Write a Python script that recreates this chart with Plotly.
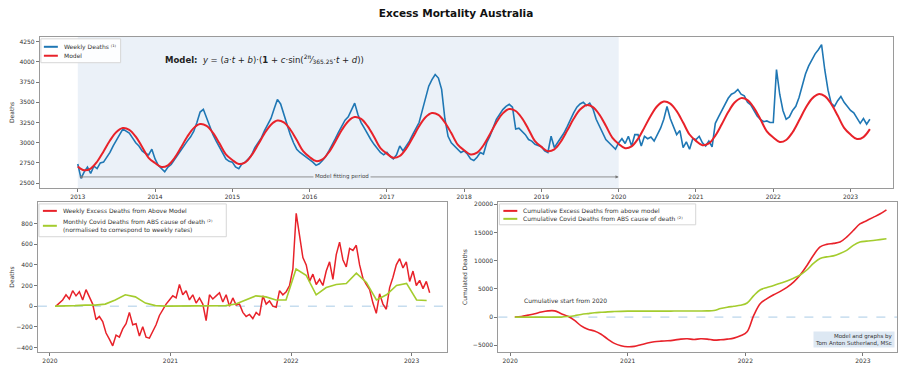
import numpy as np
import plotly.graph_objects as go

# ======================================
# DATA
# ======================================

# top panel: weekly deaths, sampled twice a month from 2013
weekly_deaths_2013 = [2737, 2560, 2640, 2700, 2620, 2710, 2680, 2750, 2760, 2820, 2880, 2960,
                      3040, 3100, 3170, 3140, 3120, 3060, 3000, 2960, 2900, 2870, 2850, 2920]
weekly_deaths_2014 = [2800, 2720, 2680, 2640, 2700, 2730, 2790, 2850, 2900, 2960, 3020, 3070,
                      3140, 3250, 3380, 3414, 3300, 3200, 3100, 3020, 2950, 2880, 2800, 2770]
weekly_deaths_2015 = [2760, 2700, 2680, 2740, 2760, 2800, 2850, 2940, 3000, 3060, 3150, 3220,
                      3300, 3420, 3536, 3480, 3350, 3230, 3100, 3000, 2920, 2880, 2850, 2820]
weekly_deaths_2016 = [2800, 2760, 2720, 2740, 2780, 2830, 2900, 2970, 3050, 3130, 3210, 3280,
                      3320, 3400, 3490, 3350, 3250, 3180, 3100, 3040, 2980, 2930, 2880, 2850]
weekly_deaths_2017 = [2880, 2830, 2800, 2850, 2960, 2900, 2960, 3020, 3100, 3180, 3250, 3400,
                      3560, 3700, 3780, 3844, 3800, 3660, 3300, 3080, 3000, 2960, 2920, 2880]
weekly_deaths_2018 = [2900, 2860, 2800, 2780, 2820, 2880, 2860, 3000, 3080, 3180, 3290, 3350,
                      3410, 3450, 3475, 3440, 3170, 3180, 3140, 3100, 3040, 3020, 2980, 2960]
weekly_deaths_2019 = [2950, 2900, 2880, 3080, 2940, 3000, 3060, 3120, 3200, 3290, 3370, 3440,
                      3480, 3500, 3460, 3490, 3420, 3290, 3200, 3120, 3040, 3000, 2960, 2920]
weekly_deaths_2020 = [3000, 3050, 2990, 3080, 2960, 3100, 3100, 2960, 3080, 3050, 3070, 3020,
                      3100, 3180, 3290, 3450, 3300, 3200, 3100, 3150, 2940, 3010, 2920, 3050]
weekly_deaths_2021 = [3040, 3080, 3000, 2960, 3020, 2950, 3240, 3320, 3400, 3470, 3550, 3600,
                      3620, 3660, 3600, 3580, 3500, 3470, 3400, 3330, 3290, 3260, 3270, 3250]
weekly_deaths_2022 = [3250, 3905, 3600, 3400, 3290, 3320, 3400, 3450, 3560, 3700, 3850, 3950,
                      4030, 4100, 4150, 4213, 3900, 3650, 3487, 3450, 3520, 3573, 3500, 3450]
weekly_deaths_2023 = [3400, 3370, 3300, 3240, 3300, 3230, 3290]

# top panel: fitted model, monthly values
model_2013 = [2707, 2659, 2680, 2765, 2892, 3027, 3133, 3182, 3160, 3075, 2948, 2813]
model_2014 = [2749, 2700, 2721, 2808, 2937, 3074, 3181, 3231, 3209, 3122, 2993, 2856]
model_2015 = [2787, 2737, 2758, 2846, 2977, 3115, 3223, 3274, 3252, 3164, 3033, 2895]
model_2016 = [2823, 2773, 2795, 2884, 3016, 3157, 3267, 3318, 3295, 3206, 3074, 2933]
model_2017 = [2865, 2814, 2836, 2927, 3061, 3203, 3315, 3367, 3344, 3253, 3119, 2977]
model_2018 = [2907, 2855, 2877, 2969, 3105, 3250, 3363, 3416, 3393, 3301, 3165, 3020]
model_2019 = [2949, 2896, 2919, 3012, 3150, 3296, 3411, 3465, 3441, 3348, 3210, 3064]
model_2020 = [2985, 2932, 2955, 3049, 3190, 3338, 3455, 3509, 3485, 3391, 3250, 3102]
model_2021 = [3023, 2969, 2992, 3088, 3229, 3379, 3497, 3552, 3528, 3432, 3291, 3141]
model_2022 = [3065, 3010, 3034, 3130, 3274, 3426, 3545, 3601, 3576, 3480, 3336, 3184]
model_2023 = [3101, 3046, 3070, 3168]

# bottom left: weekly excess deaths (approx. every 10 days from Jan 2020)
weekly_excess = [
    0, 30, 60, 110, 70, 150, 100, 140, 60, 160,
    90, 20, -130, -100, -150, -260, -320, -384, -280, -300,
    -220, -170, -60, -180, -170, -290, -200, -300, -310, -240,
    -180, -90, -30, 20, 60, 100, 80, 210, 110, 150,
    60, 110, 30, 80, 20, -140, 110, 70, 100, 130,
    40, 110, 0, 80, 10, 20, -60, -100, -80, -120,
    -60, -90, 100, 20, 50, 0, -10, 150, 110, 140,
    200, 360, 900, 700, 470, 400, 240, 310, 210, 260,
    200, 340, 430, 260, 500, 620, 450, 380, 560, 540,
    590, 400, 270, 210, 160, 30, -70, 120, 20, -30,
    180, 280, 400, 460, 370, 430, 240, 340, 200, 250,
    170, 240, 130,
]

# bottom left: monthly covid deaths, normalised to weekly rates
covid_monthly = [
    0, 0, 5, 10, 10, 20, 60, 110, 90, 30, 5, 0,
    0, 0, 0, 0, 0, 5, 20, 60, 100, 90, 60, 60,
    360, 300, 110, 180, 210, 220, 320, 230, 60, 110, 200, 220,
    60, 55,
]

# bottom right: cumulative excess and covid deaths
cum_excess = [
    0, 100, 350, 600, 900, 1100, 1100, 600, 150, -580,
    -1570, -2160, -2450, -3030, -3900, -4660, -5070, -5250, -5190, -4900,
    -4600, -4370, -4260, -4200, -4080, -3900, -3850, -3960, -3850, -3900,
    -4080, -4020, -3900, -3730, -3320, -2600, 300, 2400, 3270, 3960,
    4550, 5250, 6180, 7460, 9100, 10960, 12420, 12880, 13060, 13290,
    14170, 15330, 16500, 17080, 17660, 18250, 19000,
]
cum_covid = [
    0, 0, 0, 0, 0, 0, 0, 0, 100, 250,
    470, 620, 760, 850, 930, 980, 1020, 1050, 1050, 1060,
    1060, 1060, 1060, 1060, 1070, 1070, 1070, 1080, 1080, 1100,
    1170, 1520, 1750, 1920, 2100, 2500, 3800, 4840, 5250, 5600,
    6000, 6410, 6880, 7460, 8340, 9500, 10380, 10670, 10840, 11250,
    11830, 12710, 13290, 13450, 13580, 13720, 13870,
]

year_ticks_top = list(range(2013, 2024))
year_ticks_bottom = [2020, 2021, 2022, 2023]

weekly_deaths = (weekly_deaths_2013 + weekly_deaths_2014 + weekly_deaths_2015 + weekly_deaths_2016
                 + weekly_deaths_2017 + weekly_deaths_2018 + weekly_deaths_2019 + weekly_deaths_2020
                 + weekly_deaths_2021 + weekly_deaths_2022 + weekly_deaths_2023)
model_deaths = (model_2013 + model_2014 + model_2015 + model_2016 + model_2017 + model_2018
                + model_2019 + model_2020 + model_2021 + model_2022 + model_2023)

# time grids (decimal years)
t_weekly = 2013 + np.arange(len(weekly_deaths)) / 24
t_model = 2013 + np.arange(len(model_deaths)) / 12
t_excess = np.linspace(2020.05, 2023.15, len(weekly_excess))
t_covid = 2020 + (np.arange(len(covid_monthly)) + 0.5) / 12
t_cum = np.linspace(2020.04, 2023.2, len(cum_excess))

# ======================================
# PAGE GEOMETRY
# ======================================

# the page body has an 8px margin, so the figure is drawn 8px in and made
# smaller so that it fits the 909x368 window
OFF = 8
W, H = 909 - OFF, 368 - OFF


def px(p):
    return (p - OFF) / W


def py(p):
    return 1 - (p - OFF) / H


FONT = "DejaVu Sans"
BLUE = "#1f77b4"
RED = "#e8222a"
GREEN = "#a4cc2e"
SHADE = "#ebf1f8"

# ======================================
# FIGURE
# ======================================

fig = go.Figure()

fig.add_trace(go.Scatter(x=t_weekly, y=weekly_deaths, mode="lines", name="Weekly Deaths",
                         line=dict(color=BLUE, width=1.6), xaxis="x", yaxis="y"))
fig.add_trace(go.Scatter(x=t_model, y=model_deaths, mode="lines", name="Model",
                         line=dict(color=RED, width=2, shape="spline"), xaxis="x", yaxis="y"))
fig.add_trace(go.Scatter(x=t_excess, y=weekly_excess, mode="lines", name="Weekly Excess",
                         line=dict(color=RED, width=1.5), xaxis="x2", yaxis="y2"))
fig.add_trace(go.Scatter(x=t_covid, y=covid_monthly, mode="lines", name="Monthly Covid",
                         line=dict(color=GREEN, width=1.6), xaxis="x2", yaxis="y2"))
fig.add_trace(go.Scatter(x=t_cum, y=cum_excess, mode="lines", name="Cumulative Excess",
                         line=dict(color=RED, width=1.6, shape="spline"), xaxis="x3", yaxis="y3"))
fig.add_trace(go.Scatter(x=t_cum, y=cum_covid, mode="lines", name="Cumulative Covid",
                         line=dict(color=GREEN, width=1.6, shape="spline"), xaxis="x3", yaxis="y3"))

axis_common = dict(showgrid=False, zeroline=False, showline=True, mirror=True,
                   linecolor="#9a9a9a", linewidth=1, ticks="outside", ticklen=3,
                   tickcolor="#777", tickfont=dict(size=6, color="#333"))

fig.update_layout(
    width=W, height=H,
    margin=dict(l=0, r=0, t=0, b=0),
    paper_bgcolor="white", plot_bgcolor="white",
    font=dict(family=FONT, size=6, color="#333"),
    showlegend=False,
    title=dict(text="<b>Excess Mortality Australia</b>", x=px(456), y=py(13), xanchor="center",
               yanchor="middle", font=dict(size=10.5, color="#111")),
    xaxis=dict(axis_common, domain=[px(37), px(893)], range=[2012.51, 2023.55],
               tickvals=year_ticks_top, anchor="y"),
    yaxis=dict(axis_common, domain=[py(187), py(35)], range=[2440, 4310],
               tickvals=list(range(2500, 4251, 250)), anchor="x",
               title=dict(text="Deaths", font=dict(size=6), standoff=4)),
    xaxis2=dict(axis_common, domain=[px(35), px(445)], range=[2019.9, 2023.29],
                tickvals=year_ticks_bottom, anchor="y2"),
    yaxis2=dict(axis_common, domain=[py(352), py(201)], range=[-445, 1010],
                tickvals=list(range(-400, 801, 200)), anchor="x2",
                title=dict(text="Deaths", font=dict(size=6), standoff=4)),
    xaxis3=dict(axis_common, domain=[px(497), px(897)], range=[2019.9, 2023.29],
                tickvals=year_ticks_bottom, anchor="y3"),
    yaxis3=dict(axis_common, domain=[py(352), py(201)], range=[-6200, 20400],
                tickvals=list(range(-5000, 20001, 5000)), tickformat="d", anchor="x3",
                title=dict(text="Cumulated Deaths", font=dict(size=6), standoff=4)),
)

# model fitting period shading
fig.add_shape(type="rect", xref="x", yref="y domain", x0=2013, x1=2020, y0=0, y1=1,
              fillcolor=SHADE, line=dict(width=0), layer="below")

# zero lines in the bottom panels
for ax in ["2", "3"]:
    fig.add_shape(type="line", xref="x" + ax + " domain", yref="y" + ax, x0=0, x1=1, y0=0, y1=0,
                  line=dict(color="#a9cbe6", width=1, dash="dash"), layer="below")

# arrow over the fitting period
fig.add_annotation(x=2020, y=2577, ax=2013, ay=2577, xref="x", yref="y", axref="x", ayref="y",
                   text="", showarrow=True, arrowside="end+start", arrowhead=2, arrowsize=0.8,
                   arrowwidth=0.8, arrowcolor="#777")
fig.add_annotation(x=2016.42, y=2577, xref="x", yref="y", text="Model fitting period",
                   showarrow=False, font=dict(size=5.5, color="#444"), bgcolor=SHADE)

# model formula
fig.add_annotation(x=2014.1, y=4030, xref="x", yref="y", xanchor="left", showarrow=False,
                   text="<b>Model:</b>  <i>y</i> = (<i>a</i>·<i>t</i> + <i>b</i>)·(<b>1</b> + "
                        "<i>c</i>·sin(<sup>2π</sup>⁄<sub>365.25</sub>·<i>t</i> + <i>d</i>))",
                   font=dict(size=8.5, color="#222"))

# bottom right notes
fig.add_annotation(x=2020.1, y=3000, xref="x3", yref="y3", xanchor="left", showarrow=False,
                   text="Cumulative start from 2020", font=dict(size=6, color="#333"))
fig.add_annotation(x=0.995, y=0.03, xref="x3 domain", yref="y3 domain", xanchor="right",
                   yanchor="bottom", showarrow=False, align="right",
                   text="Model and graphs by<br>Tom Anton Sutherland, MSc",
                   font=dict(size=5.5, color="#333"), bgcolor="#dde8f3")

# ======================================
# LEGENDS (drawn by hand to keep them compact)
# ======================================


def legend_box(x0, y0, x1, y1):
    fig.add_shape(type="rect", xref="paper", yref="paper", x0=px(x0), x1=px(x1),
                  y0=py(y1), y1=py(y0), fillcolor="rgba(255,255,255,0.9)",
                  line=dict(color="#d6d6d6", width=1))


def legend_row(x, y, color, label):
    fig.add_shape(type="line", xref="paper", yref="paper", x0=px(x), x1=px(x + 14),
                  y0=py(y), y1=py(y), line=dict(color=color, width=2))
    fig.add_annotation(x=px(x + 18), y=py(y), xref="paper", yref="paper", xanchor="left",
                       yanchor="middle", align="left", showarrow=False, text=label,
                       font=dict(size=6, color="#333"))


legend_box(38, 37, 118, 61)
legend_row(41, 45, BLUE, "Weekly Deaths ⁽¹⁾")
legend_row(41, 54, RED, "Model")

legend_box(36, 203, 224, 236)
legend_row(40, 210, RED, "Weekly Excess Deaths from Above Model")
legend_row(40, 225, GREEN, "Monthly Covid Deaths from ABS cause of death ⁽²⁾<br>"
                           "(normalised to correspond to weekly rates)")

legend_box(498, 203, 695, 224)
legend_row(502, 210, RED, "Cumulative Excess Deaths from above model")
legend_row(502, 218, GREEN, "Cumulative Covid Deaths from ABS cause of death ⁽²⁾")

fig.write_html("out.html")
